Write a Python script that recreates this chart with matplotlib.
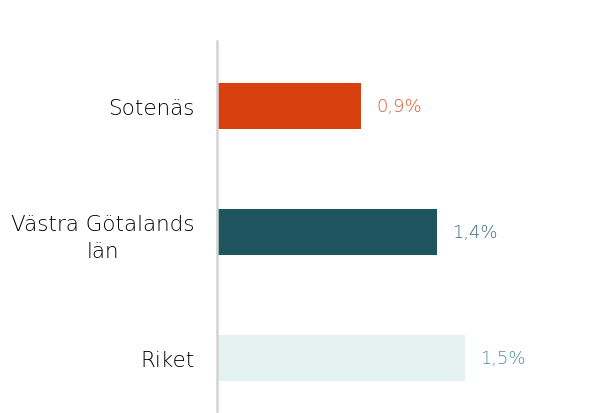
import matplotlib
matplotlib.use("Agg")
import matplotlib.pyplot as plt

categories = ["Sotenäs", "Västra Götalands\nlän", "Riket"]
values = [0.89, 1.36, 1.53]
bar_colors = ["#D9400F", "#1F555E", "#E4F3F0"]
label_colors = ["#DD5428", "#3A6A71", "#4A8F8B"]

fig = plt.figure(figsize=(6.16, 4.14), dpi=100)
ax = fig.add_axes([217/616, 2/414, 352/616, 370/414])
ypos = list(range(len(categories)))
ax.barh(ypos, values, height=0.36, color=bar_colors)
ax.set_xlim(0, 352/162)
ax.set_ylim(2 + 53/126.5, -65/126.5)

for y, v, c in zip(ypos, values, label_colors):
    ax.text(v + 15/162, y, f"{v:.1f}".replace(".", ",") + "%", va="center", ha="left",
            fontsize=13, color=c, family="DejaVu Sans", fontweight="light")

ax.set_yticks(ypos)
ax.set_yticklabels(categories, fontsize=15.5, family="DejaVu Sans", fontweight="light",
                   color="#000000", multialignment="center", linespacing=1.45)
ax.tick_params(axis="y", length=0, pad=16)
ax.set_xticks([])
for s in ["top", "right", "bottom"]:
    ax.spines[s].set_visible(False)
ax.spines["left"].set_color("#D3D3D3")
ax.spines["left"].set_linewidth(1.8)

fig.savefig("out.png", dpi=100)
